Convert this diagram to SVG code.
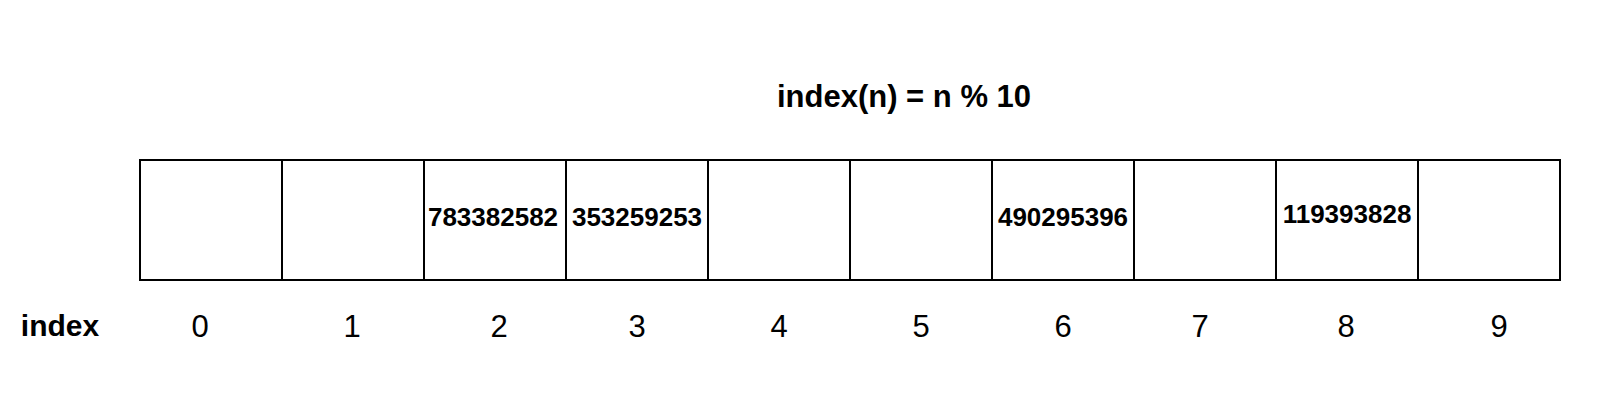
<svg xmlns="http://www.w3.org/2000/svg" width="1600" height="400" viewBox="0 0 1600 400">
<style>
.cell{fill:#fff;stroke:#000;stroke-width:2}
.val{font-family:"Liberation Sans",Arial,sans-serif;font-weight:bold;font-size:26px;text-anchor:middle;fill:#000}
.idx{font-family:"Liberation Sans",Arial,sans-serif;font-size:31px;text-anchor:middle;fill:#000}
.title{font-family:"Liberation Sans",Arial,sans-serif;font-weight:bold;font-size:31px;text-anchor:middle;fill:#000}
</style>
<rect width="1600" height="400" fill="#fff"/>
<text class="title" x="904" y="107">index(n) = n % 10</text>
<g id="cell0"><rect class="cell" x="140" y="160" width="142" height="120"/></g>
<g id="cell1"><rect class="cell" x="282" y="160" width="142" height="120"/></g>
<g id="cell2"><rect class="cell" x="424" y="160" width="142" height="120"/><text class="val" x="493" y="226">783382582</text></g>
<g id="cell3"><rect class="cell" x="566" y="160" width="142" height="120"/><text class="val" x="637" y="226">353259253</text></g>
<g id="cell4"><rect class="cell" x="708" y="160" width="142" height="120"/></g>
<g id="cell5"><rect class="cell" x="850" y="160" width="142" height="120"/></g>
<g id="cell6"><rect class="cell" x="992" y="160" width="142" height="120"/><text class="val" x="1063" y="226">490295396</text></g>
<g id="cell7"><rect class="cell" x="1134" y="160" width="142" height="120"/></g>
<g id="cell8"><rect class="cell" x="1276" y="160" width="142" height="120"/><text class="val" x="1347" y="223">119393828</text></g>
<g id="cell9"><rect class="cell" x="1418" y="160" width="142" height="120"/></g>
<g id="labels">
<text class="title" x="60" y="336" style="font-size:30px">index</text>
<text class="idx" x="200" y="337">0</text>
<text class="idx" x="352" y="337">1</text>
<text class="idx" x="499" y="337">2</text>
<text class="idx" x="637" y="337">3</text>
<text class="idx" x="779" y="337">4</text>
<text class="idx" x="921" y="337">5</text>
<text class="idx" x="1063" y="337">6</text>
<text class="idx" x="1200" y="337">7</text>
<text class="idx" x="1346" y="337">8</text>
<text class="idx" x="1499" y="337">9</text>
</g>
<g id="connectors"></g>
</svg>
